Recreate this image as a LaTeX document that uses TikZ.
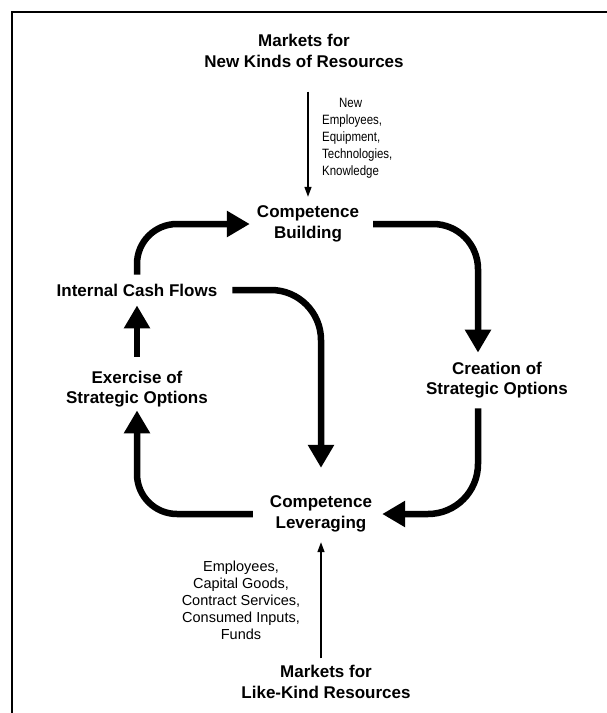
\documentclass[tikz,border=0pt]{standalone}
\usepackage{fontspec}
\setmainfont{Liberation Sans}
\newfontfamily\narrowfont[FakeStretch=0.85]{Liberation Sans}
\usetikzlibrary{arrows.meta,positioning}

\begin{document}
\begin{tikzpicture}[x=1pt, y=-1pt, node distance=170pt, on grid]
        % Define block styles
        \tikzstyle{block} = [align=center, inner sep=0pt, font=\fontsize{17pt}{20.5pt}\selectfont\bfseries]
        \tikzstyle{goods} = [align=center, inner sep=0pt, font=\fontsize{14.5pt}{17pt}\selectfont]
        \tikzstyle{flow} = [draw, line width=6.5pt, rounded corners=45pt, -{Triangle[length=23pt, width=25pt]}]
        \tikzstyle{feed} = [draw, line width=1.5pt, -{Triangle[length=10pt, width=7pt]}]

        \useasboundingbox (0,0) rectangle (607,713);
        \draw [line width=1.5pt] (12,713) -- (12,12) -- (607,12);

        % Nodes
        \node [block] (build) at (308,224) {Competence\\Building};
        \node [block, above=173pt of build, xshift=-4pt] (newmkt) {Markets for\\New Kinds of Resources};
        \node [block] (cash) at (137,290) {Internal Cash Flows};
        \node [block, below=99pt of cash] (exercise) {Exercise of\\Strategic Options};
        \node [block] (create) at (497,380) {Creation of\\Strategic Options};
        \node [block] (lever) at (321,514) {Competence\\Leveraging};
        \node [block, below=168pt of lever, xshift=5pt] (likemkt) {Markets for\\Like-Kind Resources};

        % Resource labels
        \node [anchor=west, align=left, inner sep=0pt, font=\narrowfont\fontsize{13.5pt}{17pt}\selectfont] (newgoods) at (322,138) {\hspace*{17pt}New\\Employees,\\Equipment,\\Technologies,\\Knowledge};
        \node [goods] (likegoods) at (241,600) {Employees,\\Capital Goods,\\Contract Services,\\Consumed Inputs,\\Funds};

        % Arrows
        \path [feed, shorten <=24pt, shorten >=9pt] (build.north |- newmkt.south) -- (build.north);
        \path [feed, shorten <=7pt, shorten >=10pt] (lever.south |- likemkt.north) -- (lever.south);
        \path [flow, shorten <=9pt, shorten >=7pt, rounded corners=40pt] (cash.north) |- (build.west);
        \path [flow, shorten <=14pt, shorten >=9pt] (build.east) -| ([xshift=-19pt]create.north);
        \path [flow, shorten <=10pt, shorten >=10pt, rounded corners=50pt] ([xshift=-19pt]create.south) |- (lever.east);
        \path [flow, shorten <=17pt, shorten >=3pt, rounded corners=40pt] (lever.west) -| (exercise.south);
        \path [flow, shorten <=14pt, shorten >=9pt] (exercise.north) -- (cash.south);
        \path [flow, shorten <=15pt, shorten >=28pt, rounded corners=50pt] (cash.east) -| (lever.north);
    \end{tikzpicture}
\end{document}
